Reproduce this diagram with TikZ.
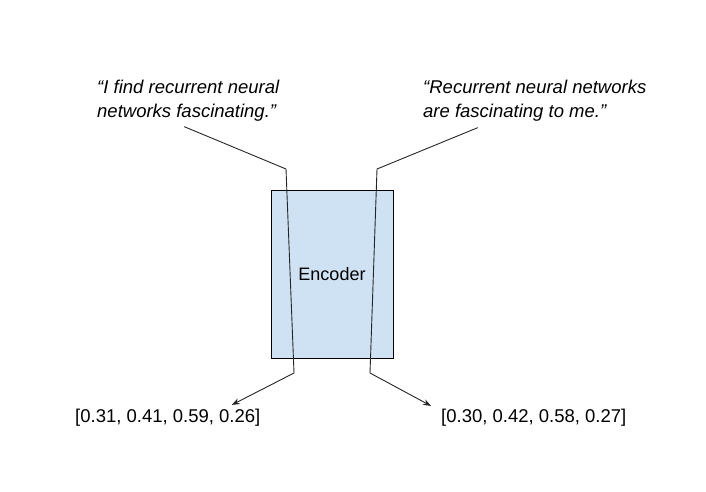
\documentclass[tikz,border=0pt]{standalone}
\usepackage{fontspec}
\setmainfont{Liberation Sans}
\usetikzlibrary{arrows.meta}
\definecolor{encblue}{HTML}{CFE2F3}
\begin{document}
\begin{tikzpicture}[x=1pt,y=-1pt]
       \tikzstyle{quotenode}=[inner sep=0, align=left, anchor=north west, font=\fontsize{18.5}{24}\selectfont\itshape]
       \tikzstyle{vecnode}=[inner sep=0, anchor=base west, font=\fontsize{18.5}{24}\selectfont]
       \tikzstyle{encnode}=[draw, line width=1pt, fill=encblue, minimum width=122pt, minimum height=168pt, inner sep=0, font=\fontsize{18}{22}\selectfont]
       \tikzstyle{wire}=[line width=0.9pt, black!85, -{Stealth[length=8pt, width=6pt]}]
       \useasboundingbox (0,0) rectangle (706,491);
       \node[encnode] (enc) at (332,274) {Encoder};
       \node[quotenode] (q1) at (97,80) {“I find recurrent neural\\networks fascinating.”};
       \node[quotenode] (q2) at (423,80) {“Recurrent neural networks\\are fascinating to me.”};
       \node[vecnode] (v1) at (75,422) {[0.31, 0.41, 0.59, 0.26]};
       \node[vecnode] (v2) at (441,422) {[0.30, 0.42, 0.58, 0.27]};
       % bends of the two paths
       \coordinate (l1) at (286,169);
       \coordinate (l2) at (294,373);
       \coordinate (r1) at (377,169);
       \coordinate (r2) at (370,373);
       \draw[wire] ([xshift=-4pt,yshift=-5pt]q1.south) -- (l1) -- (l2) -- ([xshift=64pt,yshift=3.5pt]v1.north);
       \draw[wire] ([xshift=-57pt,yshift=-6pt]q2.south) -- (r1) -- (r2) -- ([xshift=-10pt,yshift=2.5pt]v2.north west);
      \end{tikzpicture}
\end{document}
